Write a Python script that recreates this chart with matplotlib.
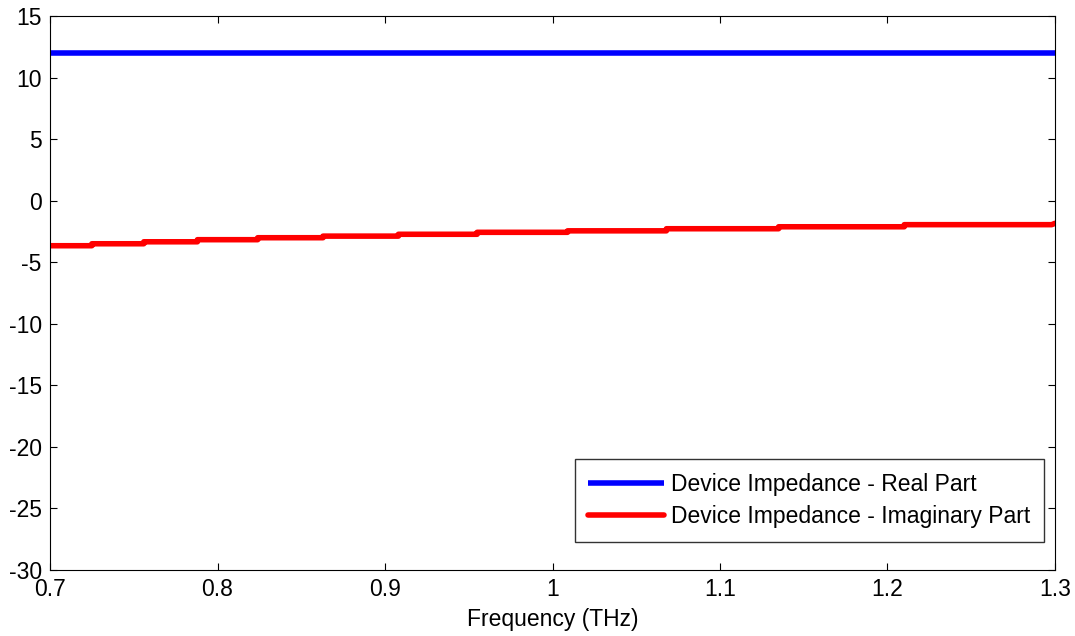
import numpy as np
import matplotlib
matplotlib.use("Agg")
import matplotlib.pyplot as plt

plt.rcParams['font.family'] = ['Liberation Sans', 'DejaVu Sans']
plt.rcParams['axes.unicode_minus'] = False

# Data
real_freq = [0.7, 1.3]
real_vals = [12.0, 12.0]

imag_step_freq = [0.700, 0.725, 0.756, 0.788, 0.824, 0.863, 0.908, 0.955,
                  1.009, 1.068, 1.135, 1.210, 1.298]
imag_step_vals = [-3.66, -3.50, -3.34, -3.17, -3.01, -2.88, -2.73, -2.57,
                  -2.45, -2.28, -2.12, -1.95]
imag_end_freq = 1.300
imag_end_val = -1.84

x_ticks = [0.7, 0.8, 0.9, 1.0, 1.1, 1.2, 1.3]
x_ticklabels = ['0.7', '0.8', '0.9', '1', '1.1', '1.2', '1.3']
y_ticks = [-30, -25, -20, -15, -10, -5, 0, 5, 10, 15]

# Build staircase from the step data
sx, sy = [], []
for i, v in enumerate(imag_step_vals):
    sx += [imag_step_freq[i], imag_step_freq[i + 1]]
    sy += [v, v]
sx.append(imag_end_freq)
sy.append(imag_end_val)

FS = 16.5

fig = plt.figure(figsize=(10.75, 6.36), dpi=100)
ax = fig.add_axes([50 / 1075, 1 - 570 / 636, 1005 / 1075, 554 / 636])

ax.plot(real_freq, real_vals, color='#0000ff', lw=4,
        label='Device Impedance - Real Part', solid_capstyle='butt')
ax.plot(sx, sy, color='#ff0000', lw=4,
        label='Device Impedance - Imaginary Part', solid_capstyle='round')

ax.set_xlim(0.7, 1.3)
ax.set_ylim(-30, 15)
ax.set_xticks(x_ticks)
ax.set_xticklabels(x_ticklabels)
ax.set_yticks(y_ticks)
ax.tick_params(direction='in', top=True, right=True, length=5, width=0.8,
               labelsize=FS, colors='black', pad=6)
for s in ax.spines.values():
    s.set_linewidth(0.8)
    s.set_color('black')
ax.set_xlabel('Frequency (THz)', fontsize=FS, labelpad=5)

leg = ax.legend(loc='lower right', bbox_to_anchor=(0.989, 0.0505),
                borderaxespad=0, fontsize=FS, frameon=True, fancybox=False,
                edgecolor='black', handlelength=3.3, handletextpad=0.3,
                borderpad=0.6, labelspacing=0.4)
leg.get_frame().set_linewidth(1.0)

fig.savefig('out.png', dpi=100)
